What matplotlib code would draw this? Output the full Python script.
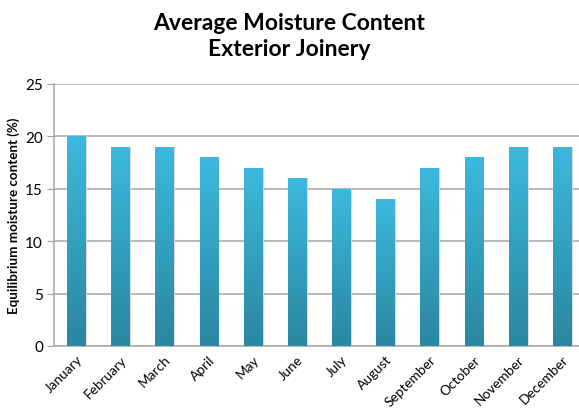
import matplotlib.pyplot as plt
import numpy as np
from matplotlib.colors import LinearSegmentedColormap

# datos del grafico
meses = ["January", "February", "March", "April", "May", "June", "July",
         "August", "September", "October", "November", "December"]
humedad = [20, 19, 19, 18, 17, 16, 15, 14, 17, 18, 19, 19]

plt.rcParams['font.family'] = ['Lato', 'DejaVu Sans']

fig = plt.figure(figsize=(5.79, 4.10), dpi=100)
ax = fig.add_axes([0.0933, 0.1537, 0.9154, 0.639])

# degradado de abajo (oscuro) hacia arriba (claro)
cmap = LinearSegmentedColormap.from_list("teal", ["#2a87a0", "#3cb9dd"])
grad = np.linspace(0, 1, 256).reshape(-1, 1)

x = np.arange(len(meses))
barras = ax.bar(x, humedad, width=0.41, color="none", zorder=3)
for b in barras:
    x0 = b.get_x()
    x1 = x0 + b.get_width()
    h = b.get_height()
    # sombra suave
    ax.bar(x0 + b.get_width() / 2 + 0.03, h, width=b.get_width() + 0.02,
           color="#d8d8dc", zorder=2)
    im = ax.imshow(grad, extent=[x0, x1, 0, h], origin="lower", aspect="auto",
                   cmap=cmap, zorder=3)
    im.set_clip_path(b)

ax.set_xlim(-0.5, len(meses) - 0.5)
ax.set_ylim(0, 25)
ax.set_yticks(range(0, 26, 5))
ax.set_xticks(x)
ax.set_xticklabels(meses, rotation=45, ha="right", rotation_mode="anchor", fontsize=9.8)
ax.tick_params(axis="y", labelsize=11, length=5, color="#a0a0a0", pad=3)
ax.tick_params(axis="x", length=0, pad=5)

ax.grid(axis="y", color="#a6a6a6", linewidth=1.1, zorder=1)
ax.set_axisbelow(True)
for lado in ["top", "right"]:
    ax.spines[lado].set_visible(False)
ax.spines["left"].set_color("#a6a6a6")
ax.spines["bottom"].set_color("#a6a6a6")
ax.spines["left"].set_linewidth(1.1)
ax.spines["bottom"].set_linewidth(1.1)

ax.set_ylabel("Equilibrium moisture content (%)", fontsize=9.6, fontweight="bold", labelpad=4)

fig.text(0.5, 0.912, "Average Moisture Content\nExterior Joinery", ha="center", va="center",
         fontsize=16.5, fontweight="bold", linespacing=1.3)

fig.savefig("out.png", dpi=100)
